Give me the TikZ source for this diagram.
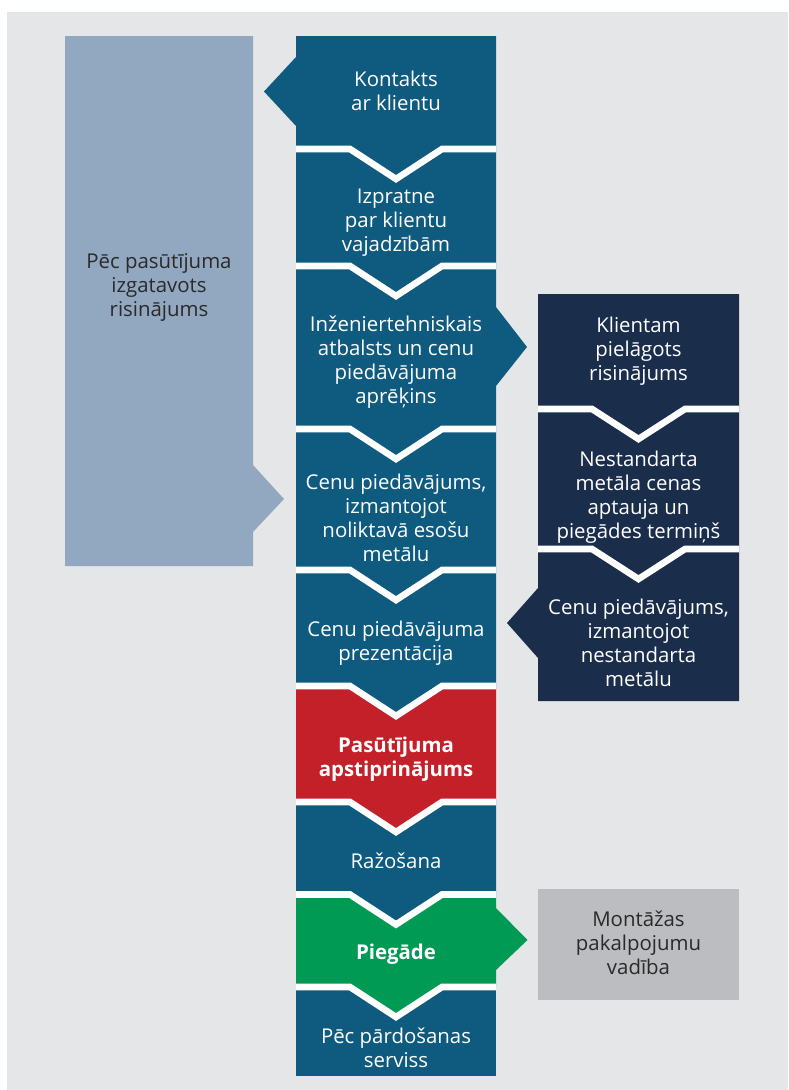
\documentclass[tikz,border=0pt]{standalone}
\usepackage{fontspec}
\setmainfont{Open Sans}
\definecolor{bg}{HTML}{E5E6E8}
\definecolor{mainblue}{HTML}{0F5B80}
\definecolor{navy}{HTML}{1A2E4C}
\definecolor{redbox}{HTML}{C42029}
\definecolor{greenbox}{HTML}{009A54}
\definecolor{lightblue}{HTML}{92A8C0}
\definecolor{graybox}{HTML}{BBBDC0}
\definecolor{darktext}{HTML}{2A2A2A}
\tikzset{
  lbl/.style={align=center, text=white, font=\fontsize{20.4}{24}\selectfont, inner sep=0pt},
  lblb/.style={lbl, font=\fontsize{20.4}{24}\selectfont\bfseries},
  lbld/.style={lbl, text=darktext},
  sepline/.style={white, line width=6.6pt, line cap=butt, line join=miter},
}
\begin{document}
\begin{tikzpicture}[x=1pt,y=-1pt]
\useasboundingbox (0,0) rectangle (788,1090);
\fill[white] (0,0) rectangle (788,1090);
\fill[bg] (7,12) rectangle (788,1090);

% left light-blue box
\fill[lightblue] (65,36) -- (253,36) -- (253,465) -- (284,499) -- (253,532) -- (253,566) -- (65,566) -- cycle;

% main column, drawn bottom to top
\fill[mainblue] (296,987) -- (496,987) -- (496,1076) -- (296,1076) -- cycle;
\fill[greenbox] (296,894.5) -- (496,894.5) -- (496,908) -- (527.5,940) -- (496,970) -- (496,987) -- (442,987) -- (396,1017) -- (350,987) -- (296,987) -- cycle;
\fill[mainblue] (296,802) -- (496,802) -- (496,894.5) -- (442,894.5) -- (396,924.5) -- (350,894.5) -- (296,894.5) -- cycle;
\fill[redbox] (296,686) -- (496,686) -- (496,802) -- (442,802) -- (396,832) -- (350,802) -- (296,802) -- cycle;
\fill[mainblue] (296,570) -- (496,570) -- (496,686) -- (442,686) -- (396,716) -- (350,686) -- (296,686) -- cycle;
\fill[mainblue] (296,429) -- (496,429) -- (496,570) -- (442,570) -- (396,600) -- (350,570) -- (296,570) -- cycle;
\fill[mainblue] (296,266) -- (496,266) -- (496,307) -- (527,347) -- (496,386) -- (496,429) -- (442,429) -- (396,459) -- (350,429) -- (296,429) -- cycle;
\fill[mainblue] (296,149) -- (496,149) -- (496,266) -- (442,266) -- (396,296) -- (350,266) -- (296,266) -- cycle;
\fill[mainblue] (296,36) -- (496,36) -- (496,149) -- (442,149) -- (396,179) -- (350,149) -- (296,149) -- (296,126) -- (264,91.5) -- (296,57) -- cycle;

\foreach \e in {149,266,429,570,686,802,894.5,987}{
  \draw[sepline] (296,\e) -- (350,\e) -- (396,\e+30) -- (442,\e) -- (496,\e);
}

% right column
\fill[navy] (538,549) -- (739,549) -- (739,701) -- (538,701) -- (538,658) -- (507,623) -- (538,588) -- cycle;
\fill[navy] (538,409) -- (739,409) -- (739,549) -- (685,549) -- (638.5,579) -- (592,549) -- (538,549) -- cycle;
\fill[navy] (538,294) -- (739,294) -- (739,409) -- (685,409) -- (638.5,439) -- (592,409) -- (538,409) -- cycle;
\foreach \e in {409,549}{
  \draw[sepline] (538,\e) -- (592,\e) -- (638.5,\e+30) -- (685,\e) -- (739,\e);
}

% gray box
\fill[graybox] (538,889) rectangle (739,1000);

% labels
\node[lbl] (kontakts) at (396,91) {Kontakts\\ar klientu};
\node[lbl] (izpratne) at (396,223) {Izpratne\\par klientu\\vajadzībām};
\node[lbl] (inz) at (396,362) {Inženiertehniskais\\atbalsts un cenu\\piedāvājuma\\aprēķins};
\node[lbl] (cenu1) at (396,518) {Cenu piedāvājums,\\izmantojot\\noliktavā esošu\\metālu};
\node[lbl] (prez) at (396,643) {Cenu piedāvājuma\\prezentācija};
\node[lblb] (apst) at (396,759) {Pasūtījuma\\apstiprinājums};
\node[lbl] (raz) at (396,861) {Ražošana};
\node[lblb] (pieg) at (396,954) {Piegāde};
\node[lbl] (pec) at (396,1048) {Pēc pārdošanas\\serviss};
\node[lbld] (left) at (159,287) {Pēc pasūtījuma\\izgatavots\\risinājums};
\node[lbl] (klientam) at (638.5,351) {Klientam\\pielāgots\\risinājums};
\node[lbl] (nestd) at (638.5,497) {Nestandarta\\metāla cenas\\aptauja un\\piegādes termiņš};
\node[lbl] (cenu2) at (638.5,643) {Cenu piedāvājums,\\izmantojot\\nestandarta\\metālu};
\node[lbld] (mont) at (638.5,943) {Montāžas\\pakalpojumu\\vadība};
\end{tikzpicture}
\end{document}
